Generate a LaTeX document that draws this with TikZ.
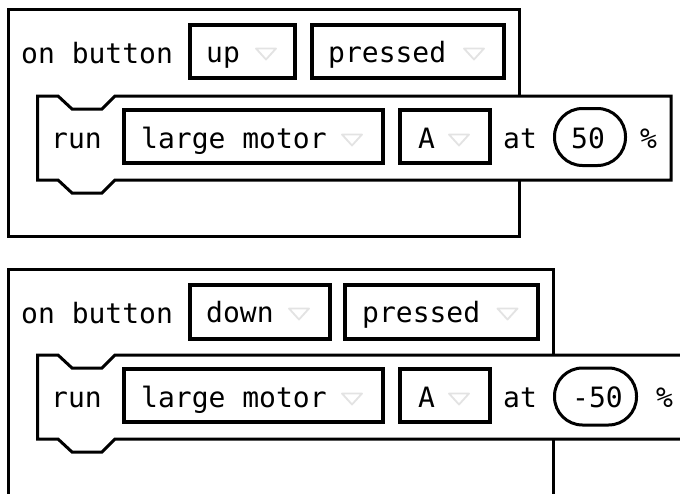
\documentclass[tikz,border=0pt]{standalone}
\usepackage{fontspec}
\setmonofont{DejaVu Sans Mono}
\begin{document}
\begin{tikzpicture}[x=1pt,y=-1pt,
  blk/.style={draw=black, line width=3pt, fill=white},
  ddbox/.style={draw=black, line width=4pt},
  valbox/.style={draw=black, line width=3pt, rounded corners=28pt},
  lbl/.style={inner sep=0pt, anchor=base west, font=\ttfamily\fontsize{28}{34}\selectfont},
  tri/.style={draw=black!11, line width=1.8pt, line join=round}]
\newcommand\ddmark[2]{\draw[tri] ({#1-10},{#2-5.5}) -- ({#1+10},{#2-5.5}) -- (#1,{#2+5.5}) -- cycle;}
\useasboundingbox (0,0) rectangle (680,493);
\clip (0,0) rectangle (680,493);
\fill[white] (0,0) rectangle (680,493);

% ---------- top block ----------
\draw[blk] (8.5,9.5) rectangle (519,236.5);
\node[lbl] (onbtnA) at (21,63) {on button};
\draw[ddbox] (189.5,24.5) rectangle (295,77.5);
\node[lbl] (upA) at (206,62) {up};
\ddmark{266}{54}
\draw[ddbox] (312,24.5) rectangle (504,77.5);
\node[lbl] (pressedA) at (328,62) {pressed};
\ddmark{474}{54}

\draw[blk] (37.5,96) -- (58,96) -- (72,109) -- (102,109) -- (115,96) -- (671,96)
  -- (671,180) -- (115,180) -- (102,193) -- (72,193) -- (58,180) -- (37.5,180) -- cycle;
\node[lbl] (runA) at (51,148) {run};
\draw[ddbox] (124,110) rectangle (383,163);
\node[lbl] (motorA) at (141,148) {large motor};
\ddmark{352}{140}
\draw[ddbox] (400,110) rectangle (490,163);
\node[lbl] (portA) at (418,148) {A};
\ddmark{459}{140}
\node[lbl] (atA) at (503,148) {at};
\draw[valbox] (554.5,108.5) rectangle (625.5,165.5);
\node[lbl] (valA) at (571,148) {50};
\node[lbl] (pctA) at (640,148) {\%};

% ---------- bottom block ----------
\draw[blk] (8.5,269.5) rectangle (553,530);
\node[lbl] (onbtnB) at (21,323) {on button};
\draw[ddbox] (189.5,284.5) rectangle (330,338.5);
\node[lbl] (downB) at (206,322) {down};
\ddmark{299}{314}
\draw[ddbox] (345,284.5) rectangle (538,338.5);
\node[lbl] (pressedB) at (362,322) {pressed};
\ddmark{507.5}{314}

\draw[blk] (37.5,355) -- (58,355) -- (72,368) -- (102,368) -- (115,355) -- (700,355)
  -- (700,439) -- (115,439) -- (102,452) -- (72,452) -- (58,439) -- (37.5,439) -- cycle;
\node[lbl] (runB) at (51,407) {run};
\draw[ddbox] (124,369) rectangle (383,422);
\node[lbl] (motorB) at (141,407) {large motor};
\ddmark{352}{399}
\draw[ddbox] (400,369) rectangle (490,422);
\node[lbl] (portB) at (418,407) {A};
\ddmark{459}{399}
\node[lbl] (atB) at (503,407) {at};
\draw[valbox] (554.5,368) rectangle (636.5,425);
\node[lbl] (valB) at (572,407) {-50};
\node[lbl] (pctB) at (656,407) {\%};
\end{tikzpicture}
\end{document}
